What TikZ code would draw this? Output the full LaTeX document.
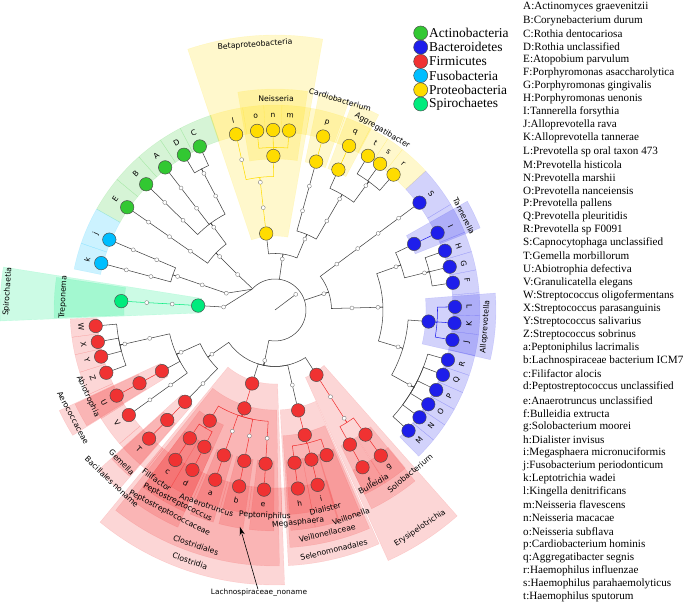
\documentclass[tikz,border=0pt]{standalone}
\usepackage{fontspec}
\setmainfont{Liberation Serif}
\newfontfamily\labfont{DejaVu Sans}
\usetikzlibrary{arrows.meta}

\definecolor{actino}{RGB}{50,200,50}
\definecolor{bactero}{RGB}{30,30,235}
\definecolor{firmi}{RGB}{240,50,50}
\definecolor{fuso}{RGB}{0,190,255}
\definecolor{proteo}{RGB}{255,220,0}
\definecolor{spiro}{RGB}{0,235,125}

\tikzset{
    edge/.style={draw=black!75, line width=0.45pt},
    hol/.style={circle, draw=black!55, fill=white, line width=0.3pt, inner sep=0pt, minimum size=3.4pt},
    sig/.style={circle, draw=black!70, line width=0.4pt, fill=#1, inner sep=0pt, minimum size=11.5pt},
    labtxt/.style={font=\labfont\fontsize{6.6}{7.5}\selectfont, inner sep=0pt},
    lettxt/.style={font=\labfont\fontsize{6.4}{7.5}\selectfont, inner sep=0pt},
    legtxt/.style={font=\fontsize{11.5}{13}\selectfont, anchor=west, inner sep=0pt},
    listtxt/.style={font=\fontsize{9.5}{11}\selectfont, anchor=west, inner sep=0pt}
}

% shaded ring piece behind a clade
\newcommand{\sector}[5]{%
    \filldraw[fill=#1, draw=#1, fill opacity=0.2, draw opacity=0.15, line width=0.3pt]
      (#2:#4) arc[start angle=#2, end angle=#3, radius=#4] -- (#3:#5)
      arc[start angle=#3, end angle=#2, radius=#5] -- cycle;}

% parent -> child through the bracket arc
\newcommand{\br}[6][]{%
    \draw[edge,#1] (#2) -- (#3:#4) arc[start angle=#3, end angle=#6, radius=#4] -- (#5);}

% text turned along the ring
\newcommand{\cladelabel}[5][labtxt]{%
    \pgfmathsetmacro{\labrot}{mod(#3,360)<180 ? #3-90 : #3+90}%
    \node[#1, rotate=\labrot] (#2) at (#3:#4) {#5};}

\begin{document}
\begin{tikzpicture}[x=0.3mm, y=0.3mm]
    \useasboundingbox (-275,-294) rectangle (410,310);

    % classes, orders, families
    \sector{proteo}{440}{468.5}{74}{275}
    \sector{spiro}{171}{182.3}{74}{275}
    \sector{firmi}{230.5}{272}{74}{275}
    \sector{firmi}{294.3}{311.5}{74}{275}
    \sector{firmi}{231.5}{271}{100}{256}
    \sector{firmi}{273}{294}{100}{256}
    \sector{firmi}{205}{211.8}{126}{238}
    \sector{firmi}{222.2}{229}{126}{238}
    \sector{firmi}{233.2}{245.9}{126}{238}
    \sector{firmi}{273.6}{293.4}{126}{238}
    % genera
    \foreach \c/\a/\b in {proteo/441.5/459.7, proteo/430.5/438.5, proteo/422/429.5,
        bactero/381.8/389.5, bactero/347/364.4, spiro/171.5/182,
        firmi/205.2/211.6, firmi/222.4/228.8, firmi/233.2/239.6, firmi/239.5/245.9,
        firmi/247.4/253.8, firmi/255.3/261.7, firmi/263.3/269.7, firmi/274.1/280.5,
        firmi/280.5/286.9, firmi/286.6/292.8, firmi/295.9/302.5, firmi/302.7/309.3}
        {\sector{\c}{\a}{\b}{151}{221}}
    % species
    \foreach \c/\a/\b in {actino/108.3/117.55, actino/117.55/124, actino/124/131.65,
        actino/131.65/140.45, actino/140.45/150.5, fuso/150.5/161, fuso/161/168.5,
        firmi/182.5/187.65, firmi/187.65/192.6, firmi/192.6/197.7, firmi/197.7/204.4,
        firmi/204.4/212, firmi/212/220.7, firmi/220.7/231, firmi/231/239.55,
        firmi/239.55/246.65, firmi/246.65/254.55, firmi/254.55/262.5, firmi/262.5/271.9,
        firmi/271.9/280.5, firmi/280.5/287, firmi/295.9/302.55, firmi/302.55/309.5,
        bactero/314.5/320.65, bactero/320.65/325.9, bactero/325.9/331, bactero/331/336.25,
        bactero/336.25/341.4, bactero/341.4/347.15, bactero/347.15/353.1, bactero/353.1/358.4,
        bactero/358.4/364.85, bactero/364.85/371.3, bactero/371.3/376.55, bactero/376.55/382.3,
        bactero/382.3/391, bactero/391/402.7,
        proteo/402.7/411.55, proteo/411.55/416.6, proteo/416.6/422.3, proteo/422.3/430.1,
        proteo/430.1/440, proteo/440/448.05, proteo/448.05/453.15, proteo/453.15/459.1,
        proteo/459.1/468.3}
        {\sector{\c}{\a}{\b}{178}{205}}

    % root and phyla
    \coordinate (O) at (0,0);
    \node[hol] (root) at (37:26) {};
    \coordinate (rootL) at (138:31);
    \coordinate (aBac) at (18.4:31);
    \coordinate (aPro) at (81.85:31);
    \coordinate (aAct) at (136.5:31);
    \coordinate (aFir) at (-101.5:31);
    \node[hol] (pBac) at (18.4:51.5) {};
    \node[hol] (pPro) at (81.85:51.5) {};
    \node[hol] (pAct) at (136.5:51.5) {};
    \node[hol] (pFus) at (161:51.5) {};
    \node[hol] (pSpi) at (176.7:51.5) {};
    \node[hol] (pFir) at (258.5:51.5) {};

    % Actinobacteria
    \node[hol] (cAct) at (136:77) {};
    \node[hol] (oAcm) at (126.5:103) {};
    \node[hol] (oCor) at (145.2:103) {};
    \node[hol] (fMic) at (117.5:128.5) {};
    \node[hol] (fAcm) at (127.6:128.5) {};
    \node[hol] (fCyn) at (135.7:128.5) {};
    \node[hol] (fCor) at (145.2:128.5) {};
    \node[hol] (gRot) at (117.5:154) {};
    \node[hol] (gAcm) at (127.6:154) {};
    \node[hol] (gCyn) at (135.7:154) {};
    \node[hol] (gAto) at (145.2:154) {};

    % Fusobacteria
    \node[hol] (cFus) at (161:77) {};
    \node[hol] (oFus) at (161:103) {};
    \node[hol] (fFus) at (157:128.5) {};
    \node[hol] (fLep) at (164.9:128.5) {};
    \node[hol] (gFus) at (157:154) {};
    \node[hol] (gLep) at (164.9:154) {};

    % Spirochaetes
    \node[sig=spiro] (cSpi) at (176.7:77) {};
    \node[hol] (oSpi) at (176.7:103) {};
    \node[hol] (fSpi) at (176.7:128.5) {};
    \node[sig=spiro] (gTre) at (176.7:154) {};

    % Firmicutes
    \node[hol] (cBcl) at (215:77) {};
    \node[sig=firmi] (cClo) at (252.7:77) {};
    \node[hol] (cNeg) at (283:77) {};
    \node[sig=firmi] (cEry) at (302.6:77) {};
    \node[hol] (oLac) at (204.2:103) {};
    \node[hol] (oBcl) at (225.6:103) {};
    \node[sig=firmi] (oClo) at (252.7:103) {};
    \node[sig=firmi] (oSel) at (283:103) {};
    \node[hol] (oEry) at (302.6:103) {};
    \node[hol] (fStr) at (192.75:128.5) {};
    \node[sig=firmi] (fAer) at (208.4:128.5) {};
    \node[hol] (fCrn) at (215.7:128.5) {};
    \node[sig=firmi] (fBno) at (225.6:128.5) {};
    \node[sig=firmi] (fPst) at (239.5:128.5) {};
    \node[hol] (fXI) at (250.6:128.5) {};
    \node[hol] (fLac) at (258.5:128.5) {};
    \node[hol] (fRum) at (266.5:128.5) {};
    \node[sig=firmi] (fVei) at (283.4:128.5) {};
    \node[hol] (fEry) at (302.6:128.5) {};
    \node[hol] (gStr) at (192.75:154) {};
    \node[sig=firmi] (gAbi) at (208.4:154) {};
    \node[hol] (gGra) at (215.7:154) {};
    \node[sig=firmi] (gGem) at (225.6:154) {};
    \node[sig=firmi] (gFil) at (236.4:154) {};
    \node[sig=firmi] (gPst) at (242.7:154) {};
    \node[sig=firmi] (gPni) at (250.6:154) {};
    \node[sig=firmi] (gLno) at (258.5:154) {};
    \node[sig=firmi] (gAna) at (266.5:154) {};
    \node[sig=firmi] (gDia) at (277.3:154) {};
    \node[sig=firmi] (gMeg) at (283.7:154) {};
    \node[sig=firmi] (gVei) at (289.6:154) {};
    \node[sig=firmi] (gBul) at (299.1:154) {};
    \node[sig=firmi] (gSol) at (306:154) {};

    % Bacteroidetes
    \node[hol] (cBcd) at (361.5:77) {};
    \node[hol] (cFla) at (396.6:77) {};
    \node[hol] (oBcd) at (361.5:103) {};
    \node[hol] (oFla) at (396.6:103) {};
    \node[hol] (fPre) at (343.3:128.5) {};
    \node[hol] (fPor) at (379.65:128.5) {};
    \node[hol] (fFla) at (396.6:128.5) {};
    \node[hol] (gPrv) at (330.9:154) {};
    \node[sig=bactero] (gAll) at (355.7:154) {};
    \node[hol] (gPor) at (373.95:154) {};
    \node[sig=bactero] (gTan) at (385.4:154) {};
    \node[hol] (gCap) at (396.6:154) {};

    % Proteobacteria
    \node[hol] (cGam) at (427.15:77) {};
    \node[sig=proteo] (cBet) at (456.55:77) {};
    \node[hol] (oPas) at (419.8:103) {};
    \node[hol] (oCdb) at (434.5:103) {};
    \node[hol] (oNei) at (456.55:103) {};
    \node[hol] (fPas) at (419.8:128.5) {};
    \node[hol] (fCdb) at (434.5:128.5) {};
    \node[hol] (fNei) at (456.55:128.5) {};
    \node[hol] (gHae) at (413.85:154) {};
    \node[sig=proteo] (gAgg) at (425.7:154) {};
    \node[sig=proteo] (gCdb) at (434.5:154) {};
    \node[sig=proteo] (gNei) at (450.6:154) {};
    \node[hol] (gKin) at (462.5:154) {};

    % species with their letters
    \foreach \c/\n/\a in {actino/C/114.7, actino/D/120.4, actino/A/127.6, actino/B/135.7,
        actino/E/145.2, fuso/j/157, fuso/k/164.9,
        firmi/W/185.1, firmi/X/190.2, firmi/Y/195, firmi/Z/200.4, firmi/U/208.4,
        firmi/V/215.7, firmi/T/225.6, firmi/c/236.4, firmi/d/242.7, firmi/a/250.6,
        firmi/b/258.5, firmi/e/266.5, firmi/h/277.3, firmi/i/283.7, firmi/f/299.1, firmi/g/306,
        bactero/M/317.9, bactero/N/323.4, bactero/O/328.4, bactero/P/333.6, bactero/Q/338.9,
        bactero/R/343.9, bactero/J/350.4, bactero/K/355.8, bactero/L/361, bactero/F/368.7,
        bactero/G/373.9, bactero/H/379.2, bactero/I/385.4, bactero/S/396.6,
        proteo/r/408.8, proteo/s/414.3, proteo/t/418.9, proteo/q/425.7, proteo/p/434.5,
        proteo/m/445.5, proteo/n/450.6, proteo/o/455.7, proteo/l/462.5}
        {\node[sig=\c] (s\n) at (\a:180) {};
         \cladelabel[lettxt]{t\n}{\a}{194.5}{\n}}

    % branches
    \draw[edge] (O) -- (root);
    \draw[edge] (rootL) arc[start angle=138, end angle=-101.5, radius=31];
    \draw[edge] (aBac) -- (pBac);
    \draw[edge] (aPro) -- (pPro);
    \draw[edge] (aAct) -- (pAct);
    \draw[edge] (aFir) -- (pFir);
    \draw[edge] (rootL) -- (pFus);
    \draw[edge] (rootL) -- (pSpi);

    \draw[edge] (pAct) -- (cAct);
    \br{cAct}{136}{82}{oAcm}{126.5}
    \br{cAct}{136}{82}{oCor}{145.2}
    \br{oAcm}{126.5}{108}{fMic}{117.5}
    \br{oAcm}{126.5}{108}{fAcm}{127.6}
    \br{oAcm}{126.5}{108}{fCyn}{135.7}
    \draw[edge] (oCor) -- (fCor) -- (gAto) -- (sE);
    \draw[edge] (fMic) -- (gRot);
    \draw[edge] (fAcm) -- (gAcm) -- (sA);
    \draw[edge] (fCyn) -- (gCyn) -- (sB);
    \br{gRot}{117.5}{159}{sC}{114.7}
    \br{gRot}{117.5}{159}{sD}{120.4}

    \draw[edge] (pFus) -- (cFus) -- (oFus);
    \br{oFus}{161}{108}{fFus}{157}
    \br{oFus}{161}{108}{fLep}{164.9}
    \draw[edge] (fFus) -- (gFus) -- (sj);
    \draw[edge] (fLep) -- (gLep) -- (sk);

    \draw[edge] (pSpi) -- (cSpi);
    \draw[edge, draw=spiro] (cSpi) -- (oSpi) -- (fSpi) -- (gTre);

    \br{pFir}{258.5}{56.5}{cBcl}{215}
    \br{pFir}{258.5}{56.5}{cClo}{252.7}
    \br{pFir}{258.5}{56.5}{cNeg}{283}
    \br{pFir}{258.5}{56.5}{cEry}{302.6}
    \br{cBcl}{215}{82}{oLac}{204.2}
    \br{cBcl}{215}{82}{oBcl}{225.6}
    \br{oLac}{204.2}{108}{fStr}{192.75}
    \br{oLac}{204.2}{108}{fAer}{208.4}
    \br{oLac}{204.2}{108}{fCrn}{215.7}
    \draw[edge] (fStr) -- (gStr);
    \foreach \n/\a in {W/185.1, X/190.2, Y/195, Z/200.4}
        {\br{gStr}{192.75}{159}{s\n}{\a}}
    \draw[edge, draw=firmi] (fAer) -- (gAbi) -- (sU);
    \draw[edge] (fCrn) -- (gGra) -- (sV);
    \draw[edge] (oBcl) -- (fBno);
    \draw[edge, draw=firmi] (fBno) -- (gGem) -- (sT);
    \draw[edge, draw=firmi] (cClo) -- (oClo);
    \br[draw=firmi]{oClo}{252.7}{111.5}{fPst}{239.5}
    \br[draw=firmi]{oClo}{252.7}{111.5}{fXI}{250.6}
    \br[draw=firmi]{oClo}{252.7}{111.5}{fLac}{258.5}
    \br[draw=firmi]{oClo}{252.7}{111.5}{fRum}{266.5}
    \br[draw=firmi]{fPst}{239.5}{137}{gFil}{236.4}
    \br[draw=firmi]{fPst}{239.5}{137}{gPst}{242.7}
    \draw[edge, draw=firmi] (gFil) -- (sc);
    \draw[edge, draw=firmi] (gPst) -- (sd);
    \draw[edge, draw=firmi] (fXI) -- (gPni) -- (sa);
    \draw[edge, draw=firmi] (fLac) -- (gLno) -- (sb);
    \draw[edge, draw=firmi] (fRum) -- (gAna) -- (se);
    \draw[edge] (cNeg) -- (oSel);
    \draw[edge, draw=firmi] (oSel) -- (fVei);
    \br[draw=firmi]{fVei}{283.4}{137}{gDia}{277.3}
    \br[draw=firmi]{fVei}{283.4}{137}{gMeg}{283.7}
    \br[draw=firmi]{fVei}{283.4}{137}{gVei}{289.6}
    \draw[edge, draw=firmi] (gDia) -- (sh);
    \draw[edge, draw=firmi] (gMeg) -- (si);
    \draw[edge, draw=firmi] (cEry) -- (oEry) -- (fEry);
    \br[draw=firmi]{fEry}{302.6}{133.5}{gBul}{299.1}
    \br[draw=firmi]{fEry}{302.6}{133.5}{gSol}{306}
    \draw[edge, draw=firmi] (gBul) -- (sf);
    \draw[edge, draw=firmi] (gSol) -- (sg);

    \br{pBac}{378.4}{56.5}{cBcd}{361.5}
    \br{pBac}{378.4}{56.5}{cFla}{396.6}
    \draw[edge] (cFla) -- (oFla) -- (fFla) -- (gCap) -- (sS);
    \draw[edge] (cBcd) -- (oBcd);
    \br{oBcd}{361.5}{108}{fPre}{343.3}
    \br{oBcd}{361.5}{108}{fPor}{379.65}
    \br{fPre}{343.3}{133.5}{gPrv}{330.9}
    \br{fPre}{343.3}{133.5}{gAll}{355.7}
    \foreach \n/\a in {M/317.9, N/323.4, O/328.4, P/333.6, Q/338.9, R/343.9}
        {\br{gPrv}{330.9}{159}{s\n}{\a}}
    \foreach \n/\a in {J/350.4, K/355.8, L/361}
        {\br[draw=bactero]{gAll}{355.7}{162.5}{s\n}{\a}}
    \br{fPor}{379.65}{133.5}{gPor}{373.95}
    \br{fPor}{379.65}{133.5}{gTan}{385.4}
    \foreach \n/\a in {F/368.7, G/373.9, H/379.2}
        {\br{gPor}{373.95}{159}{s\n}{\a}}
    \draw[edge, draw=bactero] (gTan) -- (sI);

    \br{pPro}{441.85}{56.5}{cGam}{427.15}
    \br{pPro}{441.85}{56.5}{cBet}{456.55}
    \br{cGam}{427.15}{82}{oPas}{419.8}
    \br{cGam}{427.15}{82}{oCdb}{434.5}
    \draw[edge] (oPas) -- (fPas);
    \br{fPas}{419.8}{133.5}{gHae}{413.85}
    \br{fPas}{419.8}{133.5}{gAgg}{425.7}
    \foreach \n/\a in {r/408.8, s/414.3, t/418.9}
        {\br{gHae}{413.85}{159}{s\n}{\a}}
    \draw[edge, draw=proteo] (gAgg) -- (sq);
    \draw[edge] (oCdb) -- (fCdb) -- (gCdb);
    \draw[edge, draw=proteo] (gCdb) -- (sp);
    \draw[edge, draw=proteo] (cBet) -- (oNei) -- (fNei);
    \br[draw=proteo]{fNei}{456.55}{133.5}{gKin}{462.5}
    \br[draw=proteo]{fNei}{456.55}{133.5}{gNei}{450.6}
    \draw[edge, draw=proteo] (gKin) -- (sl);
    \foreach \n/\a in {m/445.5, n/450.6, o/455.7}
        {\br[draw=proteo]{gNei}{450.6}{162.5}{s\n}{\a}}

    % clade names
    \cladelabel{lBet}{94.3}{266}{Betaproteobacteria}
    \cladelabel{lNei}{89.7}{211}{Neisseria}
    \cladelabel{lCdb}{72.8}{220}{Cardiobacterium}
    \cladelabel{lAgg}{59.1}{209}{Aggregatibacter}
    \cladelabel{lTan}{26.4}{211}{Tannerella}
    \cladelabel{lAll}{355.4}{211}{Alloprevotella}
    \cladelabel{lSol}{309.6}{212}{Solobacterium}
    \cladelabel{lBul}{299.5}{200}{Bulleidia}
    \cladelabel{lEry}{303.6}{262}{Erysipelotrichia}
    \cladelabel{lVei}{290.2}{220}{Veillonella}
    \cladelabel{lDia}{284.2}{205}{Dialister}
    \cladelabel{lMeg}{276.2}{214}{Megasphaera}
    \cladelabel{lPni}{267.2}{206}{Peptoniphilus}
    \cladelabel{lAna}{250.7}{207}{Anaerotruncus}
    \cladelabel{lPst}{243.2}{216}{Peptostreptococcus}
    \cladelabel{lFil}{235.2}{207}{Filifactor}
    \cladelabel{lGem}{224.8}{216}{Gemella}
    \cladelabel{lAbi}{204.8}{206}{Abiotrophia}
    \cladelabel{lAer}{208.1}{229}{Aerococcaceae}
    \cladelabel{lBno}{226.5}{237}{Bacillales noname}
    \cladelabel{lPsc}{242.6}{229}{Peptostreptococcaceae}
    \cladelabel{lClo}{251.4}{248}{Clostridiales}
    \cladelabel{lCla}{251.3}{265}{Clostridia}
    \cladelabel{lVlc}{283.2}{229}{Veillonellaceae}
    \cladelabel{lSel}{283.8}{247}{Selenomonadales}
    \cladelabel{lSpi}{176.1}{268}{Spirochaetia}
    \cladelabel{lTre}{176.5}{212}{Treponema}

    % arrow
    \node[labtxt, font=\labfont\fontsize{6.3}{7.5}\selectfont] (lLno) at (-16,-283) {Lachnospiraceae\_noname};
    \coordinate (lLnoTip) at (-35,-217);
    \draw[-{Stealth[length=7pt,width=4.5pt]}, line width=0.5pt] (lLno) -- (lLnoTip);

    % legend
    \foreach \c/\t [count=\i from 0] in {actino/Actinobacteria, bactero/Bacteroidetes,
        firmi/Firmicutes, fuso/Fusobacteria, proteo/Proteobacteria, spiro/Spirochaetes}
        {\node[sig=\c, minimum size=12pt] (k\i) at (145.7, 277-14.2*\i) {};
         \node[legtxt] (kt\i) at (154, 277-14.2*\i) {\t};}

    % key to the letters
    \foreach \t [count=\i from 0] in {A:Actinomyces graevenitzii, B:Corynebacterium durum,
        C:Rothia dentocariosa, D:Rothia unclassified, E:Atopobium parvulum,
        F:Porphyromonas asaccharolytica, G:Porphyromonas gingivalis, H:Porphyromonas uenonis,
        I:Tannerella forsythia, J:Alloprevotella rava, K:Alloprevotella tannerae,
        L:Prevotella sp oral taxon 473, M:Prevotella histicola, N:Prevotella marshii,
        O:Prevotella nanceiensis, P:Prevotella pallens, Q:Prevotella pleuritidis,
        R:Prevotella sp F0091, S:Capnocytophaga unclassified, T:Gemella morbillorum,
        U:Abiotrophia defectiva, V:Granulicatella elegans, W:Streptococcus oligofermentans,
        X:Streptococcus parasanguinis, Y:Streptococcus salivarius, Z:Streptococcus sobrinus,
        a:Peptoniphilus lacrimalis, b:Lachnospiraceae bacterium ICM7, c:Filifactor alocis,
        d:Peptostreptococcus unclassified, e:Anaerotruncus unclassified, f:Bulleidia extructa,
        g:Solobacterium moorei, h:Dialister invisus, i:Megasphaera micronuciformis,
        j:Fusobacterium periodonticum, k:Leptotrichia wadei, l:Kingella denitrificans,
        m:Neisseria flavescens, n:Neisseria macacae, o:Neisseria subflava,
        p:Cardiobacterium hominis, q:Aggregatibacter segnis, r:Haemophilus influenzae,
        s:Haemophilus parahaemolyticus, t:Haemophilus sputorum}
        {\node[listtxt] (li\i) at (248, 302.7-13.1*\i) {\t};}
\end{tikzpicture}
\end{document}
